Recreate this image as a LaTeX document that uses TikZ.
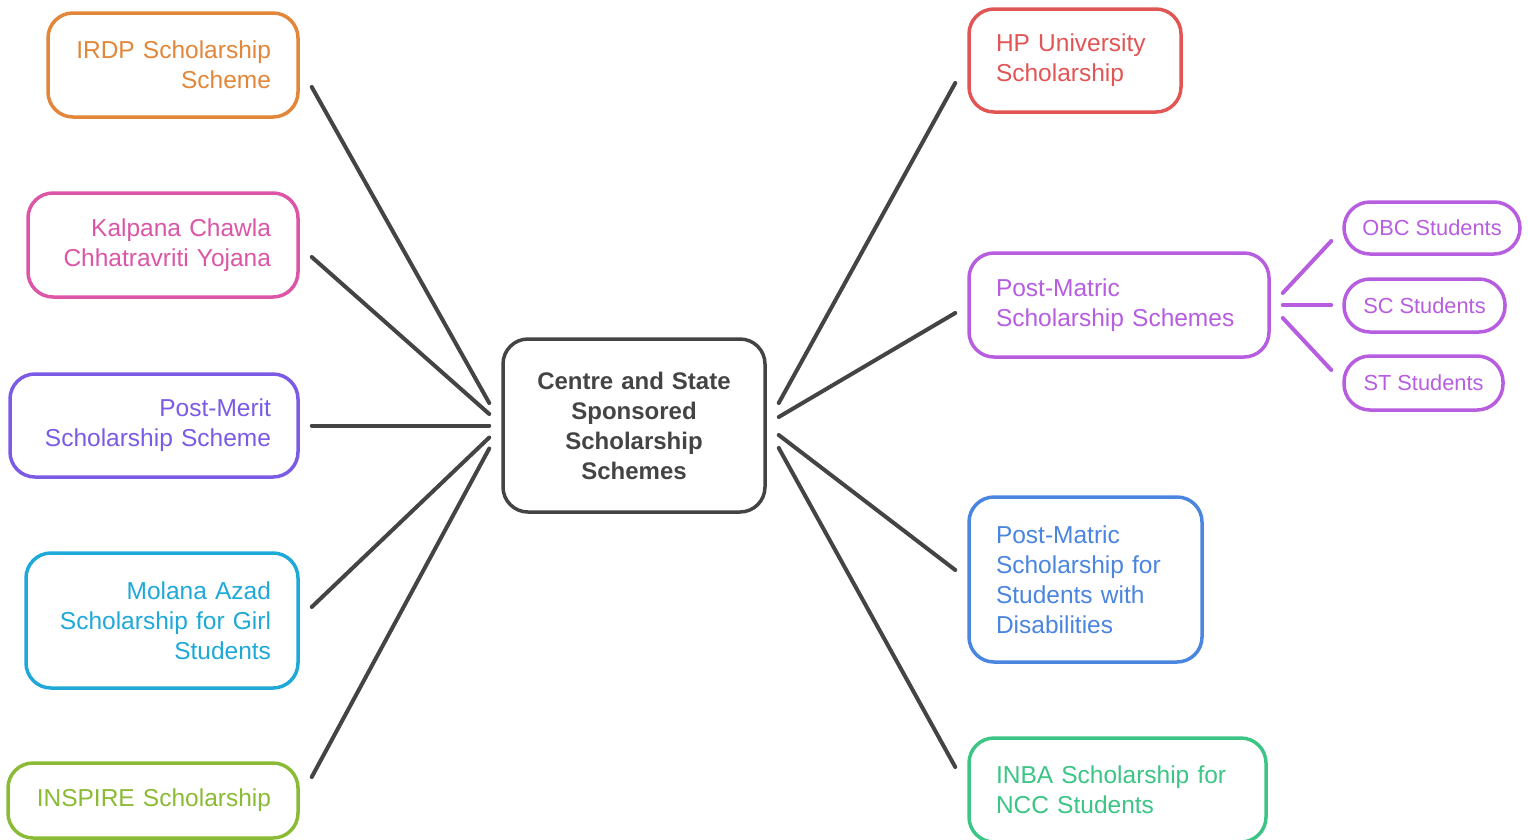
\documentclass[tikz,border=0pt]{standalone}
\usepackage{fontspec}
\setmainfont{Liberation Sans}
\hyphenpenalty=10000
\definecolor{corange}{HTML}{E2873A}
\definecolor{cpink}{HTML}{DC55A6}
\definecolor{cviolet}{HTML}{7B5BE6}
\definecolor{ccyan}{HTML}{1FA9D8}
\definecolor{clime}{HTML}{8BBB35}
\definecolor{cred}{HTML}{E25555}
\definecolor{cpurple}{HTML}{B75DE0}
\definecolor{cblue}{HTML}{4A85E0}
\definecolor{cgreen}{HTML}{3CC585}
\definecolor{cdark}{HTML}{444444}
\tikzset{
  box/.style={draw=#1, text=#1, line width=3.5pt, rounded corners=25pt, fill=white,
    inner xsep=27pt, inner ysep=0pt, font=\fontsize{24.5}{30}\selectfont},
  lbox/.style={box=#1, align=right},
  rbox/.style={box=#1, align=left},
  subbox/.style={draw=cpurple, text=cpurple, line width=3.5pt, rounded corners=26pt,
    inner xsep=0pt, inner ysep=0pt, align=center, font=\fontsize{21.8}{26}\selectfont},
  link/.style={draw=cdark, line width=4pt, line cap=round},
  sublink/.style={draw=cpurple, line width=4pt, line cap=round}
}
\begin{document}
\begin{tikzpicture}[x=1pt,y=1pt]
\useasboundingbox (0,0) rectangle (1528,-839);
% center
\node[box=cdark, align=center, text width=208pt, minimum width=262pt, minimum height=173pt,
  font=\bfseries\fontsize{24}{30}\selectfont] (center) at (634,-425.5)
  {Centre and State\\Sponsored\\Scholarship\\Schemes};
% left nodes
\node[lbox=corange, text width=196pt, minimum height=104pt] (irdp) at (173,-65)
  {IRDP Scholarship\\Scheme};
\node[lbox=cpink, text width=216pt, minimum height=104pt] (kalpana) at (163,-245)
  {Kalpana Chawla\\Chhatravriti Yojana};
\node[lbox=cviolet, text width=234pt, minimum height=103pt] (merit) at (154,-425.5)
  {Post-Merit\\Scholarship Scheme};
\node[lbox=ccyan, text width=218pt, minimum height=135pt] (molana) at (162,-620.5)
  {Molana Azad\\Scholarship for Girl\\Students};
\node[lbox=clime, text width=236pt, minimum height=75pt] (inspire) at (153,-800.5)
  {INSPIRE Scholarship};
% right nodes
\node[rbox=cred, text width=158pt, minimum height=103pt] (hp) at (1075,-60.5)
  {HP University\\Scholarship};
\node[rbox=cpurple, text width=246pt, minimum height=104pt] (pms) at (1119,-305)
  {Post-Matric\\Scholarship Schemes};
\node[rbox=cblue, text width=179pt, minimum height=165pt] (dis) at (1085.5,-579.5)
  {Post-Matric\\Scholarship for\\Students with\\Disabilities};
\node[rbox=cgreen, text width=243pt, minimum height=104pt] (inba) at (1117.5,-790)
  {INBA Scholarship for\\NCC Students};
% sub nodes
\node[subbox, minimum width=176pt, minimum height=52pt] (obc) at (1432,-228) {OBC Students};
\node[subbox, minimum width=161pt, minimum height=53pt] (sc) at (1424.5,-305.5) {SC Students};
\node[subbox, minimum width=159pt, minimum height=54pt] (st) at (1423.5,-383) {ST Students};
% left connectors
\draw[link] ([shift={(12,-22)}]irdp.east) -- ([shift={(-12,22.5)}]center.west);
\draw[link] ([shift={(12,-12)}]kalpana.east) -- ([shift={(-12,11.5)}]center.west);
\draw[link] ([shift={(12,0)}]merit.east) -- ([shift={(-12,0)}]center.west);
\draw[link] ([shift={(12,13.5)}]molana.east) -- ([shift={(-12,-12)}]center.west);
\draw[link] ([shift={(12,23.5)}]inspire.east) -- ([shift={(-12,-23)}]center.west);
% right connectors
\draw[link] ([shift={(12,22.5)}]center.east) -- ([shift={(-12,-22.5)}]hp.west);
\draw[link] ([shift={(12,8.5)}]center.east) -- ([shift={(-12,-8)}]pms.west);
\draw[link] ([shift={(12,-9.5)}]center.east) -- ([shift={(-12,9.5)}]dis.west);
\draw[link] ([shift={(12,-22.5)}]center.east) -- ([shift={(-12,23)}]inba.west);
% sub connectors
\draw[sublink] ([shift={(12,12)}]pms.east) -- ([shift={(-11,-13)}]obc.west);
\draw[sublink] ([shift={(12,0)}]pms.east) -- ([shift={(-11,0.5)}]sc.west);
\draw[sublink] ([shift={(12,-13)}]pms.east) -- ([shift={(-11,13)}]st.west);
\end{tikzpicture}
\end{document}
